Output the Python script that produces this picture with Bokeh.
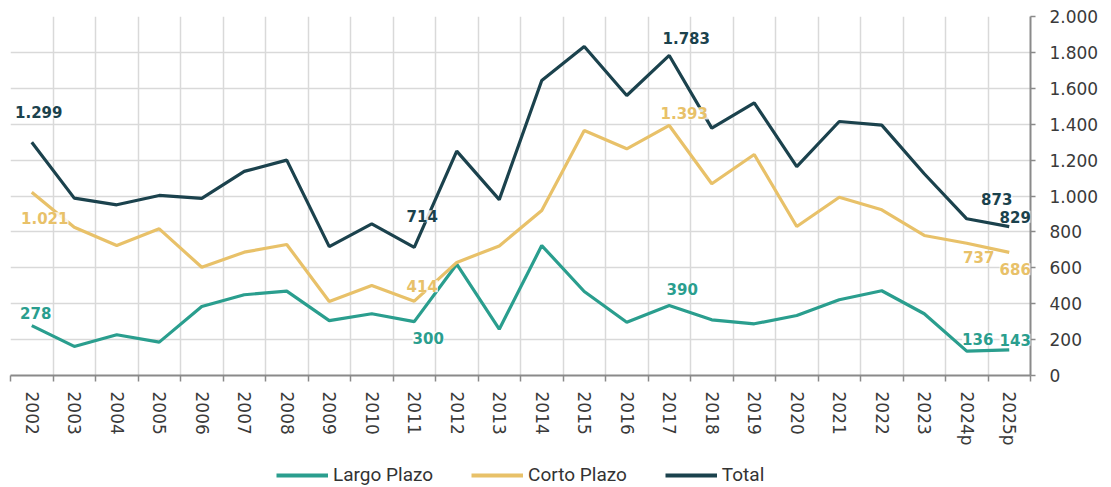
from bokeh.plotting import figure
from bokeh.layouts import column
from bokeh.models import (Range1d, FixedTicker, ColumnDataSource, LabelSet, Legend, LegendItem)
from bokeh.embed import file_html
from bokeh.resources import INLINE
from bokeh.core.properties import value

# ---- data ----
years = ["2002", "2003", "2004", "2005", "2006", "2007", "2008", "2009", "2010", "2011",
         "2012", "2013", "2014", "2015", "2016", "2017", "2018", "2019", "2020", "2021",
         "2022", "2023", "2024p", "2025p"]
largo = [278, 162, 227, 186, 384, 450, 470, 306, 344, 300,
         620, 258, 724, 468, 297, 390, 310, 288, 334, 422,
         472, 344, 136, 143]
corto = [1021, 826, 724, 817, 603, 687, 730, 412, 501, 414,
         630, 722, 919, 1365, 1263, 1393, 1068, 1231, 830, 993,
         923, 780, 737, 686]
total = [1299, 988, 951, 1003, 987, 1137, 1200, 718, 845, 714,
         1250, 980, 1643, 1833, 1560, 1783, 1378, 1519, 1164, 1415,
         1395, 1124, 873, 829]
y_ticks = [0, 200, 400, 600, 800, 1000, 1200, 1400, 1600, 1800, 2000]
series_names = ["Largo Plazo", "Corto Plazo", "Total"]

# labelled points: (year index, dx, dy) in pixels
lab_largo = [(0, 4, 13), (9, 14, -16), (15, 13, 16), (22, 11, 12), (23, 6, 10)]
lab_corto = [(0, 13, -26), (9, 8, 15), (15, 15, 12), (22, 12, -14), (23, 6, -17)]
lab_total = [(0, 7, 30), (9, 8, 31), (15, 17, 17), (22, 30, 20), (23, 6, 10)]

C_LARGO = "#2A9E8E"
C_CORTO = "#E8C169"
C_TOTAL = "#1B424D"
AXIS_C = "#8a8a8a"
GRID_C = "#d9d9d9"
TXT_C = "#3a3a3a"
FONT = "DejaVu Sans"

n = len(years)
xs = [i + 0.5 for i in range(n)]

p = figure(width=1111, height=463, output_backend="svg", toolbar_location=None,
           x_range=Range1d(0, n), y_range=Range1d(0, 2000), y_axis_location="right",
           min_border_left=10, min_border_right=81, min_border_top=16, min_border_bottom=88)
p.outline_line_color = None

# x axis
p.xaxis.ticker = FixedTicker(ticks=xs, minor_ticks=list(range(n + 1)))
p.xaxis.major_label_overrides = {x: y for x, y in zip(xs, years)}
p.xaxis.major_label_orientation = "vertical"
p.xaxis.major_tick_out = 0
p.xaxis.major_tick_in = 0
p.xaxis.minor_tick_out = 6
p.xaxis.minor_tick_in = 0
p.xaxis.minor_tick_line_color = AXIS_C
p.xaxis.minor_tick_line_width = 1.5
p.xaxis.axis_line_color = AXIS_C
p.xaxis.axis_line_width = 2
p.xaxis.major_label_text_font = FONT
p.xaxis.major_label_text_font_size = "17px"
p.xaxis.major_label_text_color = TXT_C
p.xaxis.major_label_standoff = 10
p.xgrid.grid_line_color = None
p.xgrid.minor_grid_line_color = GRID_C
p.xgrid.minor_grid_line_width = 1.5

# y axis
p.yaxis.ticker = FixedTicker(ticks=y_ticks)
p.yaxis.major_label_overrides = {t: f"{t:,}".replace(",", ".") for t in y_ticks}
p.yaxis.major_tick_out = 5
p.yaxis.major_tick_in = 0
p.yaxis.major_tick_line_color = AXIS_C
p.yaxis.major_tick_line_width = 1.5
p.yaxis.minor_tick_line_color = None
p.yaxis.axis_line_color = AXIS_C
p.yaxis.axis_line_width = 2
p.yaxis.major_label_text_font = FONT
p.yaxis.major_label_text_font_size = "17px"
p.yaxis.major_label_text_color = TXT_C
p.yaxis.major_label_standoff = 14
p.ygrid.grid_line_color = GRID_C
p.ygrid.grid_line_width = 1.5

colors = [C_LARGO, C_CORTO, C_TOTAL]
for ser, col in zip([largo, corto, total], colors):
    p.line(xs, ser, line_color=col, line_width=3.2)


def fmt(v):
    return f"{v:,}".replace(",", ".")


for series, labs, col in [(largo, lab_largo, C_LARGO), (corto, lab_corto, C_CORTO), (total, lab_total, C_TOTAL)]:
    src = ColumnDataSource(dict(
        x=[xs[i] for i, _, _ in labs],
        y=[series[i] for i, _, _ in labs],
        t=[fmt(series[i]) for i, _, _ in labs],
        dx=[dx for _, dx, _ in labs],
        dy=[dy for _, _, dy in labs],
    ))
    ls = LabelSet(x="x", y="y", text="t", x_offset="dx", y_offset="dy", source=src,
                  text_align="center", text_baseline="middle", text_color=col,
                  text_font=value(FONT), text_font_size="15px", text_font_style="bold",
                  background_fill_color="white", background_fill_alpha=0.85)
    p.add_layout(ls)

# ---- legend strip ----
lg = figure(width=1111, height=24, output_backend="svg", toolbar_location=None,
            x_range=Range1d(0, 1), y_range=Range1d(0, 1),
            x_axis_location=None, y_axis_location=None, min_border=0)
lg.outline_line_color = None
lg.grid.visible = False
items = []
for name, col in zip(series_names, colors):
    # swatch-only renderer placed outside the visible range
    r = lg.line(x=[-5, -4], y=[-5, -5], line_color=col, line_width=4)
    items.append(LegendItem(label=name, renderers=[r]))
legend = Legend(items=items, orientation="horizontal", location=(266, 1),
                glyph_width=52, glyph_height=18, label_standoff=5, spacing=38,
                label_text_font="Roboto", label_text_font_size="19px",
                label_text_color="#333333", border_line_color=None,
                background_fill_alpha=0, padding=0, margin=0)
lg.add_layout(legend, "center")

layout = column(p, lg, spacing=0)
open("out.html", "w").write(file_html(layout, INLINE))
